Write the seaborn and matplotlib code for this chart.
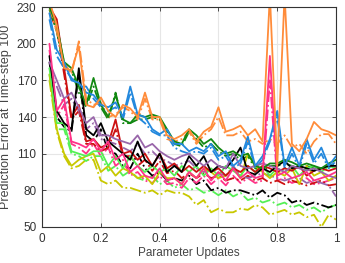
import matplotlib
matplotlib.use("Agg")
import matplotlib.pyplot as plt
import seaborn as sns

x = [0.025, 0.05, 0.075, 0.1, 0.125, 0.15, 0.175, 0.2, 0.225, 0.25,
     0.275, 0.3, 0.325, 0.35, 0.375, 0.4, 0.425, 0.45, 0.475, 0.5,
     0.525, 0.55, 0.575, 0.6, 0.625, 0.65, 0.675, 0.7, 0.725, 0.75,
     0.775, 0.8, 0.825, 0.85, 0.875, 0.9, 0.925, 0.95, 0.975, 1.0]

# solid = one run, dash-dot = paired run, per colour
orange = [235, 215, 180, 178, 198, 150, 148, 156, 145, 140, 150, 147, 140, 160, 140, 140, 125, 122, 125, 130,
          120, 128, 132, 148, 128, 130, 133, 125, 130, 120, 240, 100, 240, 118, 112, 122, 136, 130, 128, 125]
orange_dd = [230, 210, 185, 175, 202, 155, 150, 152, 140, 142, 148, 145, 138, 155, 138, 138, 122, 120, 122, 128,
             118, 125, 130, 140, 125, 125, 128, 120, 122, 118, 122, 118, 125, 115, 118, 110, 120, 126, 126, 118]
blue = [225, 195, 185, 170, 168, 160, 158, 150, 148, 152, 140, 165, 142, 140, 130, 126, 130, 118, 118, 112,
        115, 112, 118, 108, 112, 100, 105, 124, 100, 108, 122, 145, 100, 115, 100, 122, 105, 115, 100, 108]
blue_dd = [220, 190, 180, 172, 165, 165, 155, 148, 145, 148, 138, 160, 140, 135, 128, 125, 125, 115, 112, 110,
           112, 110, 115, 105, 108, 98, 102, 120, 98, 105, 120, 140, 98, 110, 98, 118, 102, 110, 98, 104]
green = [230, 215, 185, 180, 165, 150, 172, 150, 140, 158, 138, 135, 142, 140, 142, 140, 130, 120, 118, 130,
         125, 118, 122, 115, 110, 112, 108, 110, 100, 98, 102, 102, 105, 103, 100, 102, 100, 98, 102, 105]
green_dd = [228, 210, 180, 178, 160, 148, 165, 148, 138, 160, 135, 135, 138, 138, 140, 138, 128, 118, 116, 128,
            122, 115, 118, 112, 108, 110, 105, 108, 98, 96, 100, 100, 102, 100, 98, 100, 98, 96, 100, 102]
red = [230, 220, 180, 140, 150, 120, 122, 115, 118, 138, 110, 112, 105, 110, 100, 110, 98, 102, 95, 100,
       95, 100, 95, 98, 92, 98, 95, 100, 95, 100, 98, 95, 98, 96, 100, 92, 96, 98, 96, 98]
red_dd = [225, 212, 175, 138, 145, 118, 118, 112, 115, 130, 108, 108, 100, 105, 96, 104, 94, 96, 90, 94,
          90, 94, 90, 92, 88, 90, 88, 92, 88, 90, 86, 88, 85, 88, 86, 84, 86, 88, 84, 85]
black = [190, 145, 135, 130, 180, 130, 125, 135, 120, 115, 110, 105, 120, 105, 100, 110, 95, 100, 95, 108,
         100, 108, 95, 100, 98, 105, 115, 95, 93, 98, 95, 100, 104, 98, 100, 98, 96, 98, 100, 100]
black_dd = [185, 140, 132, 128, 175, 125, 120, 130, 112, 110, 100, 98, 110, 98, 92, 95, 88, 90, 88, 92,
            85, 88, 80, 82, 78, 80, 80, 78, 76, 80, 74, 78, 76, 70, 72, 68, 70, 68, 66, 68]
purple = [185, 170, 155, 160, 148, 135, 140, 125, 125, 122, 120, 118, 125, 115, 118, 112, 108, 105, 108, 110,
          105, 100, 105, 100, 98, 110, 100, 98, 100, 102, 100, 98, 95, 100, 98, 96, 98, 95, 92, 90]
purple_dd = [180, 165, 150, 155, 145, 130, 135, 122, 120, 118, 115, 112, 118, 110, 112, 106, 104, 100, 102, 104,
             98, 95, 98, 94, 92, 100, 92, 90, 92, 94, 92, 90, 88, 90, 90, 86, 88, 86, 84, 75]
pink = [200, 145, 155, 120, 118, 115, 122, 112, 120, 105, 110, 95, 100, 92, 90, 98, 88, 90, 85, 95,
        90, 98, 88, 95, 88, 98, 90, 95, 90, 92, 190, 92, 95, 90, 92, 95, 88, 90, 92, 95]
pink_dd = [195, 140, 150, 118, 115, 110, 118, 108, 115, 100, 105, 92, 95, 88, 86, 92, 85, 86, 82, 90,
           86, 92, 85, 90, 84, 92, 86, 90, 86, 88, 170, 88, 90, 86, 88, 90, 85, 86, 88, 90]
lime = [180, 135, 135, 112, 110, 108, 112, 112, 100, 108, 98, 108, 100, 95, 100, 95, 98, 92, 100, 95,
        100, 92, 98, 92, 100, 96, 92, 100, 95, 100, 92, 98, 95, 100, 92, 98, 100, 95, 100, 98]
lime_dd = [175, 130, 130, 110, 108, 104, 108, 108, 96, 100, 92, 96, 90, 88, 92, 85, 88, 82, 85, 80,
           82, 78, 80, 76, 80, 75, 78, 72, 74, 70, 72, 68, 70, 66, 68, 64, 66, 62, 66, 68]
olive = [175, 130, 110, 100, 105, 108, 110, 95, 100, 92, 98, 95, 90, 92, 85, 95, 90, 90, 85, 95,
         90, 98, 95, 90, 92, 98, 90, 110, 100, 95, 90, 95, 92, 98, 85, 100, 92, 95, 88, 92]
olive_dd = [170, 128, 108, 98, 100, 105, 105, 88, 85, 88, 82, 82, 80, 78, 80, 76, 80, 78, 78, 75,
            68, 72, 62, 65, 62, 62, 65, 64, 68, 66, 60, 62, 64, 60, 62, 58, 60, 50, 60, 56]

series = [
    (olive_dd, "#c8c800", "-."), (lime_dd, "#55f055", "-."), (black_dd, "#000000", "-."),
    (pink_dd, "#ff3388", "-."), (red_dd, "#cc1111", "-."), (purple_dd, "#9966aa", "-."),
    (green_dd, "#118811", "-."), (blue_dd, "#2288dd", "-."), (orange_dd, "#ff8c3a", "-."),
    (olive, "#c8c800", "-"), (lime, "#55f055", "-"), (red, "#cc1111", "-"),
    (black, "#000000", "-"), (purple, "#9966aa", "-"), (green, "#118811", "-"),
    (blue, "#2288dd", "-"), (pink, "#ff3388", "-"), (orange, "#ff8c3a", "-"),
]

sns.set_style("whitegrid", {"grid.color": "#e6e6e6"})
plt.rcParams["font.family"] = ["Liberation Sans", "DejaVu Sans"]

fig = plt.figure(figsize=(3.45, 2.63), dpi=100)
ax = fig.add_axes([0.122, 0.137, 0.852, 0.836])

for vals, col, ls in series:
    sns.lineplot(x=x, y=vals, color=col, linestyle=ls, linewidth=1.3, ax=ax)

ax.set_xlim(0, 1)
ax.set_ylim(50, 230)
ax.set_xticks([0, 0.2, 0.4, 0.6, 0.8, 1])
ax.set_xticklabels(["0", "0.2", "0.4", "0.6", "0.8", "1"])
ax.set_yticks([50, 80, 110, 140, 170, 200, 230])
ax.set_xlabel("Parameter Updates", fontsize=8.5, color="#444444", labelpad=2)
ax.set_ylabel("Prediction Error at Time-step 100", fontsize=9, color="#444444", labelpad=3)
ax.tick_params(direction="in", length=3, width=0.6, labelsize=8.5, colors="#333333",
               top=True, right=True, bottom=True, left=True, pad=4)
for s in ax.spines.values():
    s.set_visible(True)
    s.set_color("#333333")
    s.set_linewidth(0.8)

fig.savefig("out.png", dpi=100)
